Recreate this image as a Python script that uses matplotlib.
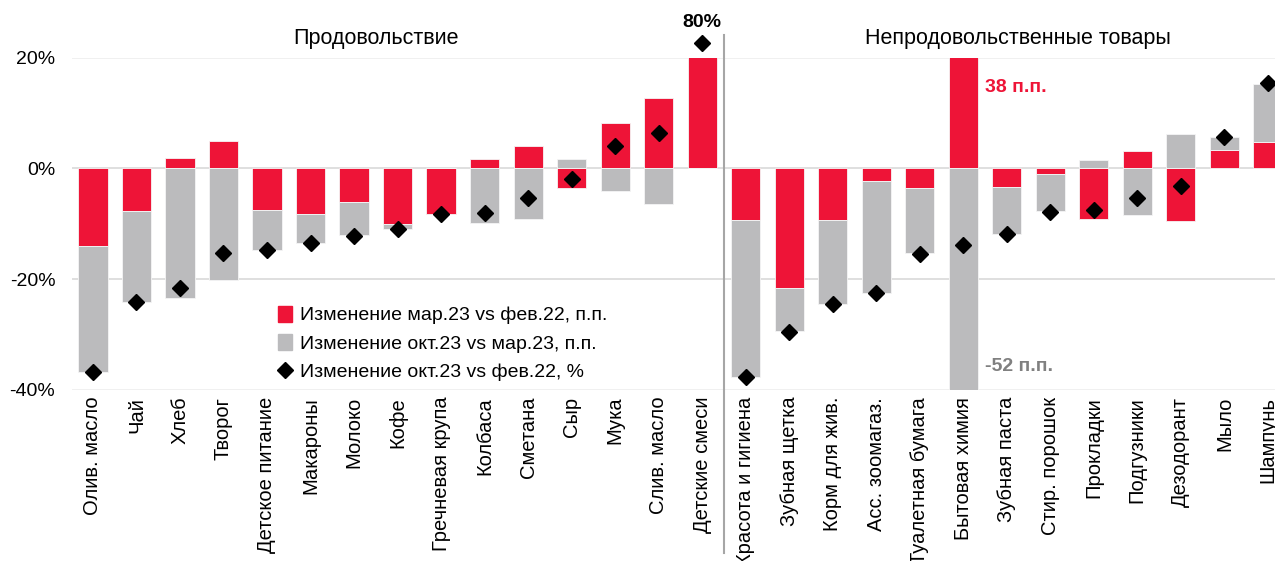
import numpy as np
import matplotlib
matplotlib.use("Agg")
import matplotlib.pyplot as plt
from matplotlib.patches import Patch
from matplotlib.lines import Line2D

plt.rcParams['font.family'] = ['Liberation Sans', 'DejaVu Sans']

# --- data -------------------------------------------------------------
food = ["Олив. масло", "Чай", "Хлеб", "Творог", "Детское питание", "Макароны",
        "Молоко", "Кофе", "Гречневая крупа", "Колбаса", "Сметана", "Сыр",
        "Мука", "Слив. масло", "Детские смеси"]
nonfood = ["Красота и гигиена", "Зубная щетка", "Корм для жив.", "Асс. зоомагаз.",
           "Туалетная бумага", "Бытовая химия", "Зубная паста", "Стир. порошок",
           "Прокладки", "Подгузники", "Дезодорант", "Мыло", "Шампунь"]
categories = food + nonfood

# change Mar.23 vs Feb.22, p.p.
mar_vs_feb = [-14.0, -7.6, 1.9, 4.9, -7.5, -8.2, -6.0, -10.0, -8.3, 1.7, 4.0, -3.5,
              8.2, 12.8, 80.0,
              -9.3, -21.6, -9.3, -2.2, -3.6, 38.0, -3.3, -1.0, -9.1, 3.1, -9.4, 3.3, 4.7]
# change Oct.23 vs Mar.23, p.p.
oct_vs_mar = [-22.7, -16.5, -23.4, -20.1, -7.2, -5.3, -6.1, -0.9, 0.0, -9.9, -9.2, 1.7,
              -4.0, -6.4, 0.0,
              -28.3, -7.8, -15.2, -20.3, -11.7, -52.0, -8.5, -6.7, 1.6, -8.4, 6.2, 2.3, 10.6]
# change Oct.23 vs Feb.22, %
oct_vs_feb = [-36.7, -24.1, -21.6, -15.3, -14.7, -13.5, -12.2, -10.9, -8.3, -8.1, -5.3, -1.9,
              4.1, 6.5, 80.0,
              -37.7, -29.5, -24.5, -22.5, -15.4, -13.9, -11.9, -7.8, -7.5, -5.4, -3.1, 5.6, 15.5]

RED = "#EE1437"
GRAY = "#BBBBBD"

red = np.array(mar_vs_feb)
gray = np.array(oct_vs_mar)
total = np.array(oct_vs_feb)
x = np.arange(len(categories))

fig = plt.figure(figsize=(12.75, 5.61), dpi=100)
ax = fig.add_axes([0.0565, 0.305, 0.955, 0.592])

# positive and negative parts stack separately (Excel style)
gray_bottom = np.where(np.sign(gray) == np.sign(red), red, 0.0)
ax.bar(x, red, width=0.67, color=RED, edgecolor="#f5f5f5", linewidth=0.6, zorder=2)
ax.bar(x, gray, width=0.67, bottom=gray_bottom, color=GRAY, edgecolor="#f5f5f5",
       linewidth=0.6, zorder=2)

# diamonds; off-scale value drawn just above the plot area
ax.plot(x, np.minimum(total, 22.6), linestyle="none", marker="D", markersize=8,
        color="black", clip_on=False, zorder=4)

ax.set_ylim(-40, 20)
ax.set_xlim(-0.48, len(categories) - 0.5)
ax.set_yticks([-40, -20, 0, 20])
ax.set_yticklabels(["-40%", "-20%", "0%", "20%"], fontsize=14)
ax.set_xticks(x)
ax.set_xticklabels(categories, rotation=90, fontsize=14.5)
ax.tick_params(length=0, pad=5)
ax.tick_params(axis="y", pad=12)

for v, c in [(20, "#eeeeee"), (0, "#d9d9d9"), (-20, "#d9d9d9"), (-40, "#eeeeee")]:
    ax.axhline(v, color=c, linewidth=1.2, zorder=1)
for s in ax.spines.values():
    s.set_visible(False)

# separator between groups
ax.axvline(len(food) - 0.5, ymin=-0.49, ymax=1.07, color="#a6a6a6", linewidth=1.5,
           clip_on=False, zorder=3)

ax.text(6.5, 23.4, "Продовольствие", ha="center", va="center", fontsize=15.5)
ax.text(21.25, 23.4, "Непродовольственные товары", ha="center", va="center", fontsize=15.5)

i_max = len(food) - 1
ax.text(i_max, 26.3, f"{total[i_max]:.0f}%", ha="center", va="center", fontsize=14,
        fontweight="bold")
i_chem = nonfood.index("Бытовая химия") + len(food)
ax.text(i_chem + 0.5, 14.6, f"{red[i_chem]:.0f} п.п.", ha="left", va="center",
        fontsize=14, fontweight="bold", color=RED)
ax.text(i_chem + 0.5, -35.8, f"{gray[i_chem]:.0f} п.п.", ha="left", va="center",
        fontsize=14, fontweight="bold", color="#808080")

handles = [Patch(color=RED), Patch(color=GRAY),
           Line2D([], [], linestyle="none", marker="D", markersize=8, color="black")]
labels = ["Изменение мар.23 vs фев.22, п.п.", "Изменение окт.23 vs мар.23, п.п.",
          "Изменение окт.23 vs фев.22, %"]
ax.legend(handles, labels, loc="lower left", bbox_to_anchor=(0.155, -0.027), frameon=False,
          fontsize=14, handlelength=0.7, handleheight=0.9, handletextpad=0.4,
          labelspacing=0.5)

fig.savefig("out.png", dpi=100)
